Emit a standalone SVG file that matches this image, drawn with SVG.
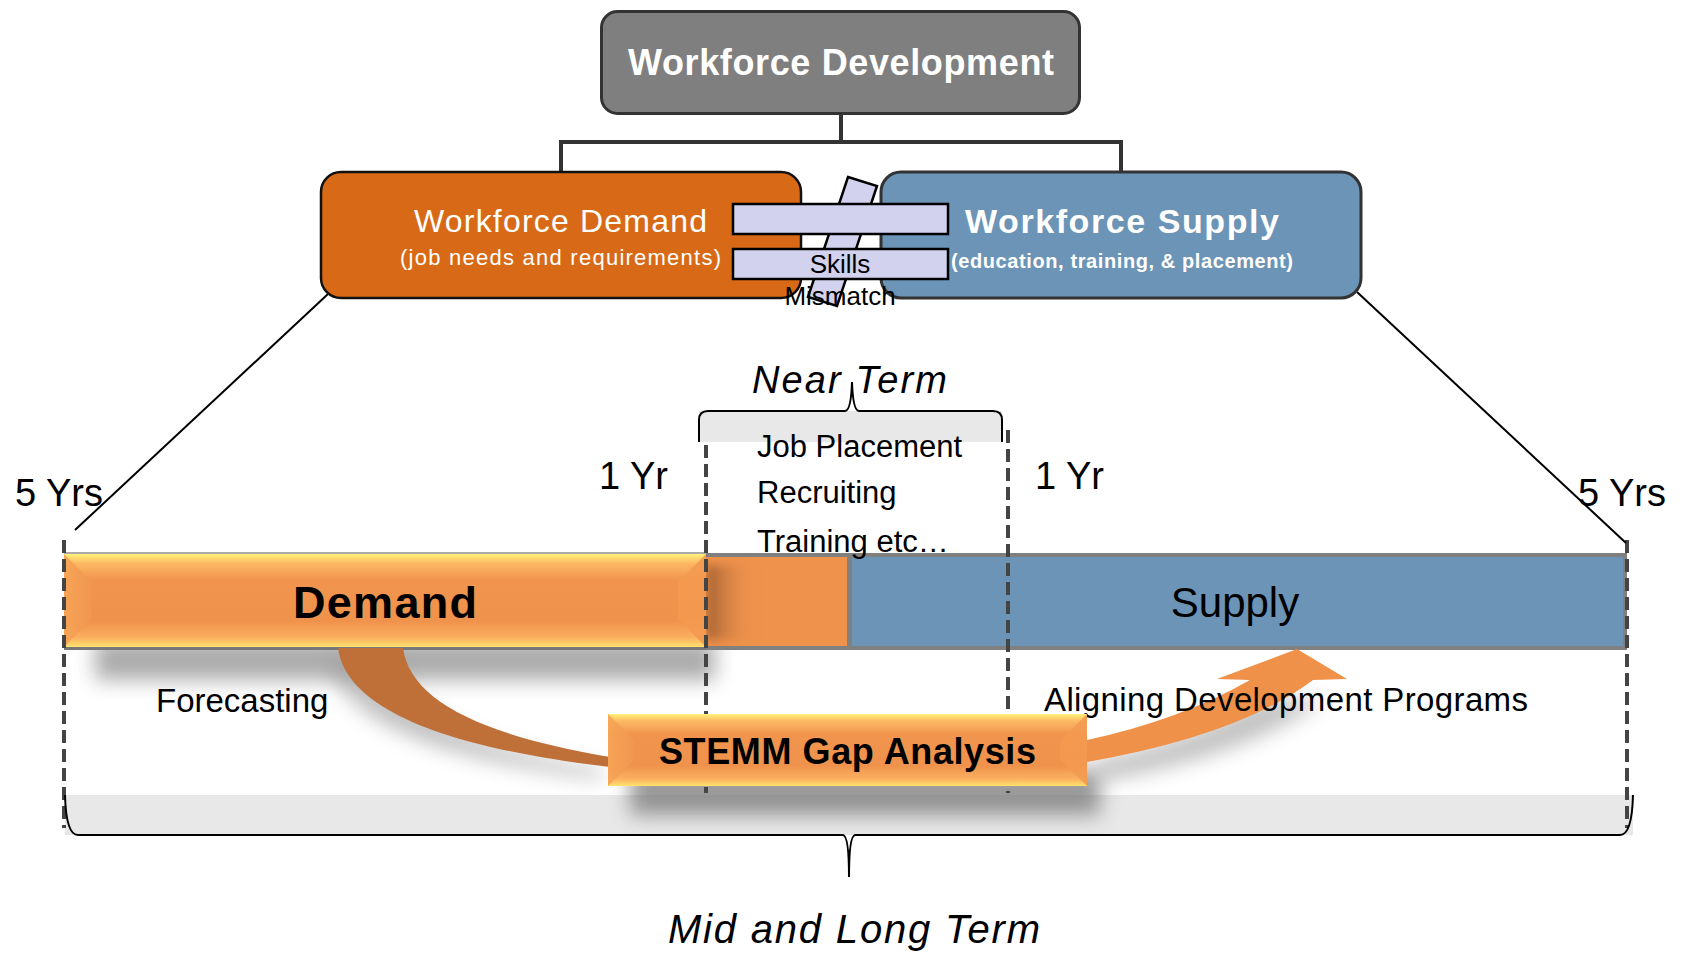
<svg xmlns="http://www.w3.org/2000/svg" width="1684" height="953" viewBox="0 0 1684 953">
<defs>
<style>
text{font-family:"Liberation Sans",Arial,sans-serif;}
.w{fill:#fff;}
.k{fill:#000;}
.b{font-weight:bold;}
.i{font-style:italic;}
.dash{stroke:#444;stroke-width:4;stroke-dasharray:13 6;fill:none;}
.tree{stroke:#333;stroke-width:4;fill:none;}
.thin{stroke:#000;stroke-width:2;fill:none;}
.neq{fill:#D2D2EF;stroke:#000;stroke-width:2.5;}
</style>
<linearGradient id="bevel" x1="0" y1="0" x2="0" y2="1">
<stop offset="0" stop-color="#FFF27A"/>
<stop offset="0.1" stop-color="#FDB863"/>
<stop offset="0.28" stop-color="#F0944E"/>
<stop offset="0.72" stop-color="#EF924C"/>
<stop offset="0.9" stop-color="#FBB060"/>
<stop offset="1" stop-color="#FFE26C"/>
</linearGradient>
<linearGradient id="sideL" x1="0" y1="0" x2="1" y2="0">
<stop offset="0" stop-color="#F7A556"/>
<stop offset="1" stop-color="#F09650"/>
</linearGradient>
<linearGradient id="blockShade" x1="0" y1="0" x2="1" y2="0">
<stop offset="0" stop-color="#8E5228" stop-opacity="0.8"/>
<stop offset="1" stop-color="#EE924C" stop-opacity="0"/>
</linearGradient>
<filter id="blur" x="-20%" y="-50%" width="140%" height="200%">
<feGaussianBlur stdDeviation="10"/>
</filter>
<filter id="blur2" x="-20%" y="-50%" width="140%" height="200%">
<feGaussianBlur stdDeviation="5"/>
</filter>
</defs>
<rect width="1684" height="953" fill="#fff"/>

<!-- background bands -->
<g id="bands">
<rect x="65" y="795" width="1568" height="40" fill="#E8E8E8"/>
<rect x="699" y="411" width="303" height="31" fill="#E8E8E8"/>
</g>

<!-- shadows -->
<g id="shadows">
<rect x="95" y="640" width="620" height="40" fill="#888" opacity="0.7" filter="url(#blur)"/>
<rect x="630" y="770" width="470" height="45" fill="#777" opacity="0.75" filter="url(#blur)"/>
<path d="M330,660 C337,712 412,757 602,779 L602,769 C472,747 402,712 395,660 Z" fill="#999" opacity="0.6" filter="url(#blur)"/>
<path d="M1097,760 Q1190,740 1260,700 L1323,700 Q1250,755 1097,782 Z" fill="#999" opacity="0.6" filter="url(#blur)"/>
</g>

<!-- timeline bars -->
<g id="supply-bar">
<rect x="708" y="555" width="917" height="93" fill="#6B94B6" stroke="#808080" stroke-width="4"/>
<rect x="706" y="557" width="141" height="89" fill="#EE924C"/>
<rect x="706" y="565" width="50" height="75" fill="url(#blockShade)" filter="url(#blur2)"/>
<rect x="847" y="555" width="5" height="93" fill="#808080"/>
<text x="1235" y="617" font-size="42" text-anchor="middle" class="k">Supply</text>
</g>

<g id="demand-bar">
<line x1="64" y1="553" x2="706" y2="553" stroke="#aaa" stroke-width="2"/>
<rect x="64" y="554" width="642" height="93" fill="url(#bevel)"/>
<polygon points="64,554 92,582 92,619 64,647" fill="url(#sideL)" opacity="0.9"/>
<polygon points="706,554 678,582 678,619 706,647" fill="#F39A50" opacity="0.9"/>
<line x1="64" y1="648.5" x2="706" y2="648.5" stroke="#777" stroke-width="3"/>
<text x="385" y="618" font-size="45" text-anchor="middle" class="k b" textLength="184">Demand</text>
</g>

<!-- dashed time markers -->
<g id="markers">
<line x1="64" y1="540" x2="64" y2="828" class="dash"/>
<line x1="1627" y1="540" x2="1627" y2="828" class="dash"/>
<line x1="706" y1="445" x2="706" y2="793" class="dash"/>
<line x1="1008" y1="430" x2="1008" y2="793" class="dash"/>
</g>

<!-- connectors -->
<g id="connectors">
<polyline points="841,114 841,142 561,142 561,172" class="tree"/>
<polyline points="841,142 1121,142 1121,172" class="tree"/>
<line x1="328" y1="294" x2="75" y2="530" class="thin"/>
<line x1="1357" y1="292" x2="1626" y2="543" class="thin"/>
<path d="M338,648 C345,700 420,745 610,767 L610,757 C480,735 410,700 403,648 Z" fill="#BE7038"/>
<path d="M1087,740 Q1180,720 1250,680 L1217,679 L1297,649 L1347,679 L1313,680 Q1240,735 1087,762 Z" fill="#EF9149"/>
</g>

<!-- braces -->
<g id="near-term">
<path d="M699,442 L699,420 Q699,411 708,411 L845,411 Q851,411 852,382 Q853,411 859,411 L993,411 Q1002,411 1002,420 L1002,442" class="thin"/>
<text x="752" y="393" font-size="38" class="k i" textLength="195">Near Term</text>
<text x="757" y="457" font-size="31" class="k">Job Placement</text>
<text x="757" y="503" font-size="31" class="k">Recruiting</text>
<text x="757" y="552" font-size="31" class="k">Training etc…</text>
</g>

<g id="mid-long-term">
<path d="M65,795 Q66,835 78,835 L843,835 Q849,836 849,877 Q849,836 855,835 L1620,835 Q1632,835 1633,795" class="thin"/>
<text x="668" y="943" font-size="40" class="k i" textLength="372">Mid and Long Term</text>
</g>

<!-- labels -->
<g id="labels">
<text x="15" y="506" font-size="38" class="k">5 Yrs</text>
<text x="1578" y="506" font-size="38" class="k">5 Yrs</text>
<text x="599" y="489" font-size="38" class="k">1 Yr</text>
<text x="1035" y="489" font-size="38" class="k">1 Yr</text>
<text x="156" y="712" font-size="33" class="k">Forecasting</text>
<text x="1044" y="711" font-size="33" class="k" textLength="484">Aligning Development Programs</text>
</g>

<!-- STEMM gap analysis -->
<g id="stemm">
<rect x="608" y="714" width="479" height="72" fill="url(#bevel)"/>
<polygon points="608,714 635,741 635,759 608,786" fill="url(#sideL)" opacity="0.9"/>
<polygon points="1087,714 1060,741 1060,759 1087,786" fill="#F39A50" opacity="0.9"/>
<text x="847.5" y="764" font-size="36" text-anchor="middle" class="k b" textLength="377">STEMM Gap Analysis</text>
</g>

<!-- top hierarchy -->
<g id="workforce-development">
<rect x="601.5" y="11.5" width="478" height="102" rx="16" fill="#7F7F7F" stroke="#333" stroke-width="3"/>
<text x="841" y="75" font-size="36" text-anchor="middle" class="w b" textLength="426">Workforce Development</text>
</g>

<g id="workforce-demand">
<rect x="321" y="172" width="480" height="126" rx="20" fill="#D86A17" stroke="#111" stroke-width="2.5"/>
<text x="560.5" y="232" font-size="32" text-anchor="middle" class="w" textLength="293">Workforce Demand</text>
<text x="560.5" y="265" font-size="22" text-anchor="middle" class="w" textLength="321">(job needs and requirements)</text>
</g>

<g id="workforce-supply">
<rect x="881" y="172" width="480" height="126" rx="20" fill="#6B94B6" stroke="#333" stroke-width="3"/>
<text x="1122" y="233" font-size="34" text-anchor="middle" class="w b" textLength="314">Workforce Supply</text>
<text x="1122" y="268" font-size="20" text-anchor="middle" class="w b" textLength="342">(education, training, &amp; placement)</text>
</g>

<g id="skills-mismatch">
<polygon points="848,177 877,186 837,306 808,297" class="neq"/>
<rect x="733" y="204" width="215" height="30" class="neq"/>
<rect x="733" y="249" width="215" height="30" class="neq"/>
<text x="840" y="273" font-size="26" text-anchor="middle" class="k">Skills</text>
<text x="840" y="305" font-size="26" text-anchor="middle" class="k">Mismatch</text>
</g>
</svg>
